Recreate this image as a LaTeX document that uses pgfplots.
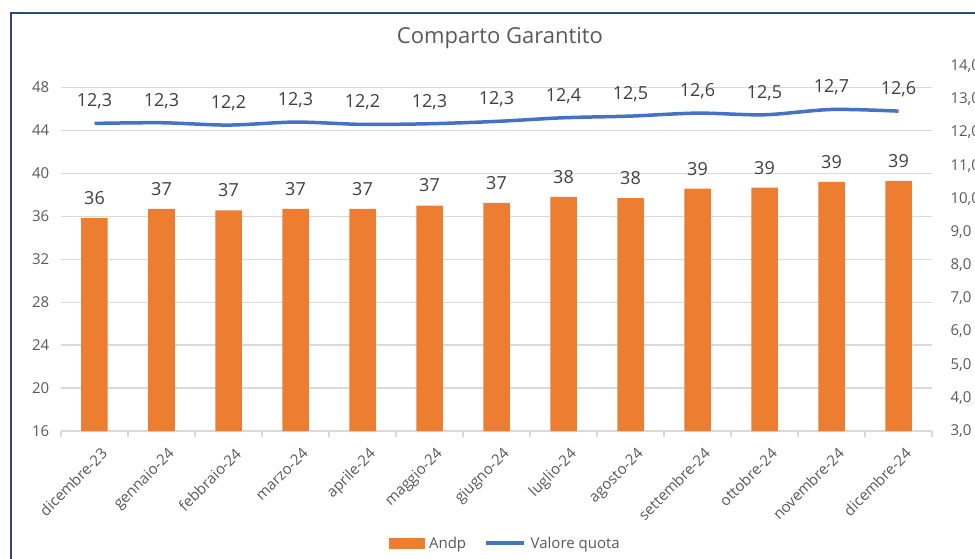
\documentclass[border=0pt]{standalone}
\usepackage{pgfplots}
\pgfplotsset{compat=1.18}
\usepackage{fontspec}
\setmainfont{Open Sans}
\definecolor{barorange}{HTML}{ED7D31}
\definecolor{lineblue}{HTML}{4472C4}
\definecolor{gridgray}{HTML}{D9D9D9}
\definecolor{ticktext}{HTML}{595959}
\definecolor{labeltext}{HTML}{404040}
\definecolor{frameblue}{HTML}{2F4A75}
\begin{document}
\begin{tikzpicture}
\useasboundingbox (-61bp,-128bp) rectangle (914bp,431bp);
\draw[frameblue, line width=2.2bp] (-50bp,-140bp) -- (-50bp,418bp) -- (930bp,418bp);
\begin{axis}[
  at={(0,0)}, anchor=south west, scale only axis,
  width=871bp, height=365bp,
  xmin=-0.5, xmax=12.5, ymin=16, ymax=50,
  ytick={16,20,...,48},
  xtick={0,...,12},
  xticklabels={dicembre-23,gennaio-24,febbraio-24,marzo-24,aprile-24,maggio-24,giugno-24,luglio-24,agosto-24,settembre-24,ottobre-24,novembre-24,dicembre-24},
  minor xtick={-0.5,0.5,...,12.5},
  axis x line*=bottom, axis y line*=left,
  x axis line style={gridgray, line width=1.3bp, -},
  y axis line style={draw=none},
  major tick style={draw=none},
  minor tick style={gridgray, line width=1.3bp},
  minor tick length=6bp,
  tick align=outside,
  ymajorgrids, grid style={gridgray, line width=1.3bp},
  /pgf/number format/assume math mode=true,
  tick label style={font=\fontsize{15bp}{17bp}\selectfont, text=ticktext},
  xticklabel style={rotate=45, anchor=north east, inner sep=1bp, yshift=-11bp, xshift=-3bp},
  yticklabel style={xshift=-4bp},
  title={Comparto Garantito},
  title style={font=\fontsize{22bp}{26bp}\selectfont, text=ticktext, at={(0.504,1)}, anchor=center, yshift=22bp},
]
\addplot[ybar, bar width=26.5bp, fill=barorange, draw=none,
  nodes near coords, point meta=explicit symbolic,
  every node near coord/.append style={anchor=center, yshift=20bp, font=\fontsize{18bp}{20bp}\selectfont, text=labeltext}]
coordinates {
(0,35.84) [36]
(1,36.70) [37]
(2,36.55) [37]
(3,36.70) [37]
(4,36.70) [37]
(5,37.00) [37]
(6,37.24) [37]
(7,37.80) [38]
(8,37.70) [38]
(9,38.57) [39]
(10,38.67) [39]
(11,39.20) [39]
(12,39.30) [39]
};
\end{axis}
\begin{axis}[
  at={(0,0)}, anchor=south west, scale only axis,
  width=871bp, height=365bp,
  xmin=-0.5, xmax=12.5, ymin=3, ymax=14,
  ytick={3,...,14},
  axis y line*=right, axis x line=none,
  y axis line style={draw=none},
  major tick style={draw=none},
  /pgf/number format/assume math mode=true,
  yticklabel style={font=\fontsize{15bp}{17bp}\selectfont, text=ticktext, xshift=15bp,
    /pgf/number format/.cd, fixed, fixed zerofill, precision=1, use comma},
  legend style={draw=none, fill=none, at={(0.51,-0.307)}, anchor=center,
    font=\fontsize{15bp}{17bp}\selectfont, text=ticktext, legend columns=2,
    /tikz/every odd column/.append style={column sep=3bp},
    /tikz/every even column/.append style={column sep=16bp}},
  legend cell align=left,
]
\addlegendimage{legend image code/.code={\fill[barorange] (0bp,-5bp) rectangle (35bp,5bp);}}
\addlegendentry{Andp}
\addplot[lineblue, line width=3.5bp, smooth, no marks,
  nodes near coords, point meta=explicit symbolic,
  every node near coord/.append style={anchor=center, yshift=22bp, font=\fontsize{18bp}{20bp}\selectfont, text=labeltext},
  legend image code/.code={\draw[lineblue, line width=3.5bp] (0bp,0bp) -- (38bp,0bp);}]
coordinates {
(0,12.27) [{12,3}]
(1,12.29) [{12,3}]
(2,12.22) [{12,2}]
(3,12.31) [{12,3}]
(4,12.24) [{12,2}]
(5,12.26) [{12,3}]
(6,12.33) [{12,3}]
(7,12.44) [{12,4}]
(8,12.49) [{12,5}]
(9,12.58) [{12,6}]
(10,12.53) [{12,5}]
(11,12.69) [{12,7}]
(12,12.64) [{12,6}]
};
\addlegendentry{Valore quota}
\end{axis}
\end{tikzpicture}
\end{document}
